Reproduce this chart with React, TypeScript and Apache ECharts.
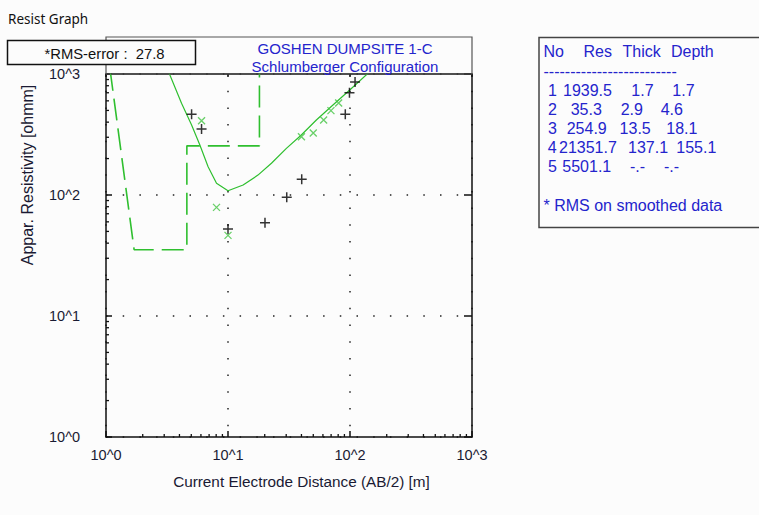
import React, { useEffect, useRef } from "react";
import * as echarts from "echarts";

// Observed apparent resistivity (black +)
const obsAB = [5.03, 6.07, 10.0, 20.1, 30.3, 40.2, 91.5, 99, 110];
const obsRho = [464, 351, 52.4, 59, 96, 135, 464, 700, 859];

// Smoothed data (green x)
const smAB = [6.07, 8.05, 10, 40, 50, 60.8, 69.8, 80.7];
const smRho = [411, 79, 46.4, 303, 325, 417, 498, 575];

// Calculated model curve (green solid)
const curveAB = [3.12, 3.34, 4.16, 5.03, 5.88, 6.87, 8.05, 10.0, 13.3, 17.6, 22.7, 30.1, 39.9, 53.0, 72.5, 99.5, 149];
const curveRho = [1164, 981, 573, 379, 259, 171, 125, 108.5, 121, 146, 183, 243, 313, 417, 555, 738, 1070];

// Layer model
const layerNo = ["1", "2", "3", "4", "5"];
const layerRes = [1939.5, 35.3, 254.9, 21351.7, 5501.1];
const layerThick = ["1.7", "2.9", "13.5", "137.1", "-.-"];
const layerDepth = [1.7, 4.6, 18.1, 155.1];

const decades = [1, 10, 100];
const minorMult = [2, 3, 4, 5, 6, 7, 8, 9];
const rmsError = "27.8";

// layout of the layer table (x of each column per row)
const rowX = [
  [548, 563, 631.3, 672.3],
  [548, 570.7, 620.7, 660.7],
  [548, 566.7, 619.6, 666.3],
  [547.7, 559, 628, 676.3],
  [548, 562.3, 630, 664],
];

const GREEN = "#2fbf2f";
const BLUE = "#2424cc";
const FONT = "Liberation Sans";
const TFONT = `16px "${FONT}"`;

export default function App() {
  const ref = useRef<HTMLDivElement>(null);
  useEffect(() => {
    if (!ref.current) return;
    const chart = echarts.init(ref.current, undefined, { renderer: "svg" });

    const modelPts: number[][] = [[1, layerRes[0]]];
    for (let i = 0; i < layerRes.length - 1; i++) {
      modelPts.push([layerDepth[i], layerRes[i + 1]]);
      const nextX = i < layerDepth.length - 1 ? layerDepth[i + 1] : 1000;
      modelPts.push([nextX, layerRes[i + 1]]);
    }

    const minorTicks: number[] = [];
    decades.forEach((d) => minorMult.forEach((m) => minorTicks.push(d * m)));

    const fmt = (v: number) => "10^" + Math.round(Math.log10(v));

    const tableTexts: any[] = [];
    const header = [
      ["No", 543.5],
      ["Res", 583.5],
      ["Thick", 622.5],
      ["Depth", 671],
    ];
    header.forEach(([t, x]) =>
      tableTexts.push({
        type: "text",
        x: x as number,
        y: 51.5,
        style: { text: t as string, fill: BLUE, font: TFONT, textVerticalAlign: "middle" },
      })
    );
    tableTexts.push({
      type: "text",
      x: 543.5,
      y: 71,
      style: { text: "-".repeat(25), fill: BLUE, font: TFONT, textVerticalAlign: "middle" },
    });
    layerNo.forEach((no, i) => {
      const cells = [
        no,
        layerRes[i].toFixed(1),
        layerThick[i],
        i < layerDepth.length ? layerDepth[i].toFixed(1) : "-.-",
      ];
      cells.forEach((c, j) =>
        tableTexts.push({
          type: "text",
          x: rowX[i][j],
          y: 90 + i * 19.2,
          style: { text: c, fill: BLUE, font: TFONT, textVerticalAlign: "middle" },
        })
      );
    });
    tableTexts.push({
      type: "text",
      x: 543.5,
      y: 205,
      style: { text: "* RMS on smoothed data", fill: BLUE, font: TFONT, textVerticalAlign: "middle" },
    });

    const axisLine = { show: true, lineStyle: { color: "#111", width: 1.5 } };

    chart.setOption({
      animation: false,
      backgroundColor: "#fcfcfc",
      textStyle: { fontFamily: FONT },
      grid: { left: 106, top: 74, width: 366, height: 363, show: false },
      xAxis: [
        {
          type: "log",
          logBase: 10,
          min: 1,
          max: 1000,
          position: "bottom",
          axisLine,
          axisTick: { inside: true, length: 6, lineStyle: { color: "#111", width: 1.5 } },
          axisLabel: { formatter: fmt, fontSize: 14.5, color: "#1a1a33", margin: 10, fontFamily: FONT },
          splitLine: { show: true, lineStyle: { color: "#222", width: 1.5, type: [1.5, 15.2] } },
        },
        {
          type: "log",
          logBase: 10,
          min: 1,
          max: 1000,
          position: "top",
          axisLine,
          axisTick: { inside: true, length: 3, lineStyle: { color: "#111", width: 1.5 } },
          axisLabel: { show: false },
          splitLine: { show: false },
        },
      ],
      yAxis: [
        {
          type: "log",
          logBase: 10,
          min: 1,
          max: 1000,
          position: "left",
          axisLine,
          axisTick: { inside: true, length: 6, lineStyle: { color: "#111", width: 1.5 } },
          axisLabel: { formatter: fmt, fontSize: 14.5, color: "#1a1a33", margin: 26, fontFamily: FONT },
          splitLine: { show: true, lineStyle: { color: "#222", width: 1.5, type: [1.5, 15.2] } },
        },
        {
          type: "log",
          logBase: 10,
          min: 1,
          max: 1000,
          position: "right",
          axisLine,
          axisTick: { inside: true, length: 8, lineStyle: { color: "#111", width: 1.5 } },
          axisLabel: { show: false },
          splitLine: { show: false },
        },
      ],
      series: [
        {
          type: "custom",
          xAxisIndex: 0,
          yAxisIndex: 0,
          data: minorTicks,
          silent: true,
          clip: false,
          renderItem: (params: any, api: any) => {
            const v = api.value(0);
            const px = api.coord([v, 1]);
            const py = api.coord([1, v]);
            return {
              type: "group",
              children: [
                { type: "line", shape: { x1: px[0], y1: px[1], x2: px[0], y2: px[1] - 3 }, style: { stroke: "#111", lineWidth: 1.3 } },
                { type: "line", shape: { x1: py[0], y1: py[1], x2: py[0] + 3, y2: py[1] }, style: { stroke: "#111", lineWidth: 1.3 } },
              ],
            };
          },
        },
        {
          type: "line",
          data: modelPts,
          symbol: "none",
          lineStyle: { color: GREEN, width: 1.6, type: [22, 8] },
          z: 3,
        },
        {
          type: "line",
          data: curveAB.map((x, i) => [x, curveRho[i]]),
          symbol: "none",
          lineStyle: { color: GREEN, width: 1.2 },
          z: 3,
        },
        {
          type: "scatter",
          data: obsAB.map((x, i) => [x, obsRho[i]]),
          symbol: "path://M0,5L10,5M5,0L5,10",
          symbolSize: 10,
          itemStyle: { color: "transparent", borderColor: "#000", borderWidth: 1.5 },
          z: 4,
        },
        {
          type: "scatter",
          data: smAB.map((x, i) => [x, smRho[i]]),
          symbol: "path://M0,0L10,10M10,0L0,10",
          symbolSize: 7,
          itemStyle: { color: "transparent", borderColor: "#44c444", borderWidth: 1.3 },
          z: 4,
        },
      ],
      graphic: [
        {
          type: "text",
          x: 8,
          y: 19,
          style: { text: "Resist Graph", fill: "#111", font: '13.5px "Noto Sans"', textVerticalAlign: "middle" },
        },
        {
          type: "rect",
          shape: { x: 106, y: 37, width: 366, height: 37 },
          style: { fill: "none", stroke: "#555", lineWidth: 1.2 },
          z: 10,
        },
        {
          type: "text",
          x: 345,
          y: 48,
          style: { text: "GOSHEN DUMPSITE 1-C", fill: BLUE, font: `15px "${FONT}"`, textAlign: "center", textVerticalAlign: "middle" },
          z: 10,
        },
        {
          type: "text",
          x: 345,
          y: 66.5,
          style: { text: "Schlumberger Configuration", fill: BLUE, font: `15px "${FONT}"`, textAlign: "center", textVerticalAlign: "middle" },
          z: 10,
        },
        {
          type: "rect",
          shape: { x: 7.5, y: 40.5, width: 188, height: 24 },
          style: { fill: "#fcfcfc", stroke: "#111", lineWidth: 1.5 },
          z: 20,
        },
        {
          type: "text",
          x: 104.5,
          y: 53.5,
          style: { text: "*RMS-error :  " + rmsError, fill: "#111", font: `14.8px "${FONT}"`, textAlign: "center", textVerticalAlign: "middle" },
          z: 21,
        },
        {
          type: "rect",
          shape: { x: 539, y: 37.5, width: 260, height: 190 },
          style: { fill: "none", stroke: "#444", lineWidth: 1.5 },
          z: 10,
        },
        ...tableTexts.map((t) => ({ ...t, z: 11 })),
        {
          type: "text",
          x: 301.5,
          y: 481,
          style: { text: "Current Electrode Distance (AB/2) [m]", fill: "#1a1a33", font: `15.3px "${FONT}"`, textAlign: "center", textVerticalAlign: "middle" },
        },
        {
          type: "text",
          x: 27,
          y: 175,
          rotation: Math.PI / 2,
          style: { text: "Appar. Resistivity [ohmm]", fill: "#1a1a33", font: `16px "${FONT}"`, textAlign: "center", textVerticalAlign: "middle" },
        },
      ],
    });
    return () => chart.dispose();
  }, []);
  return (
    <div
      ref={ref}
      style={{ position: "fixed", left: 0, top: 0, width: 759, height: 515 }}
    />
  );
}
